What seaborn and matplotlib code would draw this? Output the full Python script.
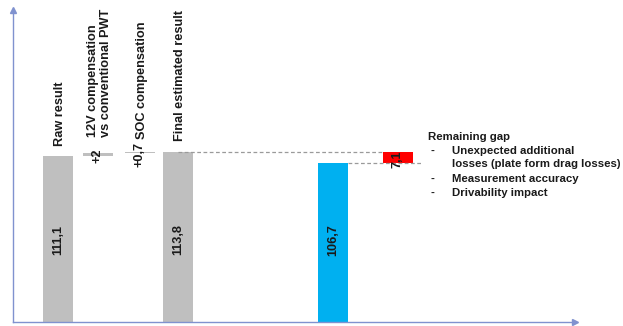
import matplotlib
matplotlib.use("Agg")
import matplotlib.pyplot as plt
import seaborn as sns
import pandas as pd

# Waterfall steps
steps = ["Raw result", "12V compensation\nvs conventional PWT", "SOC compensation",
         "Final estimated result", "Measured", "Remaining gap"]
step_values = [111.1, 2.0, 0.7, 113.8, 106.7, 7.1]
value_labels = ["111,1", "+2", "+0,7", "113,8", "106,7", "7,1"]
step_kinds = ["total", "delta", "delta", "total", "total", "gap"]
category_labels = ["Raw result", "12V compensation\nvs conventional PWT", "SOC compensation",
                   "Final estimated result", "", ""]
gap_title = "Remaining gap"
gap_notes = ["Unexpected additional\nlosses (plate form drag losses)",
             "Measurement accuracy", "Drivability impact"]

# Layout
positions = [1.12, 2.12, 3.17, 4.12, 8.0, 9.62]
bar_width = 0.74
colors = {"Raw result": "#BFBFBF", "Final estimated result": "#BFBFBF", "Measured": "#00B0F0"}
delta_color = "#BFBFBF"
gap_color = "#FF0000"
axis_color = "#8092CF"
label_gap_px = [10, 16, 13, 11, 0, 0]

sns.set_theme(style="white")
plt.rcParams["font.family"] = ["Liberation Sans", "DejaVu Sans"]

fig = plt.figure(figsize=(6.23, 3.26), dpi=100)
ax = fig.add_axes([13 / 623, 4 / 326, 562 / 623, 312 / 326])

# bar bottoms: totals start at zero, deltas stack on the running total, gap sits on the measured value
bottoms = []
running = 0.0
for kind, v in zip(step_kinds, step_values):
    if kind == "total":
        bottoms.append(0.0)
        running = v
    elif kind == "delta":
        bottoms.append(running)
        running += v
    else:
        bottoms.append(step_values[4])

totals = pd.DataFrame({
    "pos": [p for p, k in zip(positions, step_kinds) if k == "total"],
    "value": [v for v, k in zip(step_values, step_kinds) if k == "total"],
    "step": [s for s, k in zip(steps, step_kinds) if k == "total"],
})
spacing = min(b - a for a, b in zip(totals["pos"][:-1], totals["pos"][1:]))
sns.barplot(data=totals, x="pos", y="value", hue="step", palette=colors,
            native_scale=True, dodge=False, width=bar_width / spacing,
            legend=False, ax=ax, linewidth=0, saturation=1)

for p, v, b, k in zip(positions, step_values, bottoms, step_kinds):
    if k == "delta":
        ax.bar(p, v, bottom=b, width=bar_width, color=delta_color, linewidth=0)
    elif k == "gap":
        ax.bar(p, v, bottom=b, width=bar_width, color=gap_color, linewidth=0)

ax.set_xlim(0, 14.05)
ax.set_ylim(0, 209)
ax.set_xticks([])
ax.set_yticks([])
ax.set_xlabel("")
ax.set_ylabel("")
for s in ["top", "right"]:
    ax.spines[s].set_visible(False)
for s in ["left", "bottom"]:
    ax.spines[s].set_color(axis_color)
    ax.spines[s].set_linewidth(1.0)
ax.plot(0, 1, marker="^", color=axis_color, markersize=4, transform=ax.transAxes, clip_on=False)
ax.plot(1, 0, marker=">", color=axis_color, markersize=4, transform=ax.transAxes, clip_on=False)

txt = dict(color="#1A1A1A", fontweight="bold", fontsize=8.2)
vtxt = dict(color="#1A1A1A", fontweight="bold", fontsize=9.2)

# value labels
for p, v, b, k, lab in zip(positions, step_values, bottoms, step_kinds, value_labels):
    if k == "total":
        ax.text(p, 55, lab, rotation=90, ha="center", va="center", **vtxt)
    else:
        ax.text(p, b + v / 2 - 1.0, lab, rotation=90, ha="center", va="center", **vtxt)

# category labels above the bars
for p, v, b, lab, gap in zip(positions, step_values, bottoms, category_labels, label_gap_px):
    if lab:
        ax.annotate(lab, xy=(p + 0.05, b + v), xytext=(0, gap * 0.72), textcoords="offset points",
                    rotation=90, ha="center", va="bottom", multialignment="left",
                    linespacing=1.1, **vtxt)

# connector lines
final_top = step_values[3]
measured_top = step_values[4]
ax.plot([positions[3], positions[5] - bar_width / 2], [final_top, final_top],
        color="#9A9A9A", lw=0.9, ls=(0, (3, 2)))
ax.plot([positions[4] + bar_width / 2, positions[5] + bar_width / 2 + 0.2], [measured_top, measured_top],
        color="#9A9A9A", lw=0.9, ls=(0, (3, 2)))

# remaining gap explanation
x0 = 10.38
ax.text(x0, 124.0, gap_title, ha="left", va="center", **txt)
note_y = [114.5, 95.8, 86.4]
for y, note in zip(note_y, gap_notes):
    ax.text(x0 + 0.07, y, "-", ha="left", va="center", **txt)
    lines = note.split("\n")
    for i, line in enumerate(lines):
        ax.text(x0 + 0.6, y - 8.8 * i, line, ha="left", va="center", **txt)

fig.savefig("out.png", dpi=100)
